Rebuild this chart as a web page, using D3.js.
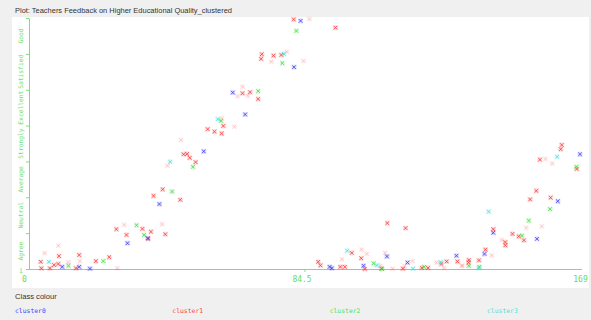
<!DOCTYPE html>
<html>
<head>
<meta charset="utf-8">
<script src="https://cdn.jsdelivr.net/npm/d3@7"></script>
<style>
  body { margin: 0; background: #f0f0f0; }
  svg { display: block; }
  .axis .domain, .axis .tick line { stroke: #6ee86e; stroke-width: 1; }
  .axis text { fill: #5ede5e; font-family: "DejaVu Sans Mono", monospace; font-size: 8px; }
</style>
</head>
<body>
<svg id="chart" width="591" height="320"></svg>
<script>
// Instance number vs. coded response value, coloured by assigned cluster.
const title = "Plot: Teachers Feedback on Higher Educational Quality_clustered";
const clusterNames = ["cluster0", "cluster1", "cluster2", "cluster3"];
const xTickValues = [0, 84.5, 169];
const yTickValues = [0, 10, 20, 30, 40, 50, 60, 70];
const yLabels = ["1", "Agree", "Neutral", "Average", "Strongly", "Excellent", "Satisfied", "Good"];

// [instance, value] pairs per cluster
const cluster0 = [
  [10.2, 0.6], [15.4, 0.6], [18.7, 0.1], [30.2, 7.2], [36.4, 8.6], [40.0, 18.1],
  [53.6, 32.8], [66.3, 43.1], [62.5, 49.2], [81.3, 56.3], [83.3, 69.2],
  [92.2, 0.6], [92.9, 0.2], [102.6, 0.9], [109.8, 3.5], [116.1, 1.8], [131.1, 3.7],
  [169.0, 32.0], [162.2, 18.9], [142.4, 10.1], [155.8, 8.4], [139.7, 4.2]
];
const cluster1 = [
  [3.6, 2.0], [3.8, 0.2], [6.4, 0.2], [7.7, 1.1], [9.0, 1.4], [9.2, 3.6], [14.4, 0.2],
  [15.4, 3.9], [20.5, 2.2], [24.6, 3.3], [26.8, 11.1], [29.9, 9.5], [34.8, 11.2],
  [36.6, 8.4], [37.4, 10.4], [41.8, 9.7], [41.0, 22.2], [38.2, 20.4], [46.4, 19.3],
  [47.4, 32.0], [48.5, 32.1], [49.3, 31.0], [51.1, 29.8], [54.8, 39.0], [56.9, 38.3],
  [59.1, 37.8], [59.6, 39.9], [65.5, 49.0], [67.8, 49.3], [70.3, 47.4], [71.4, 59.9],
  [71.2, 58.6], [75.0, 59.5], [77.4, 59.7], [81.2, 69.6], [94.0, 67.3],
  [109.9, 12.8], [115.5, 11.4], [99.0, 4.5], [101.9, 3.0], [88.7, 2.0], [89.4, 1.0],
  [95.5, 0.6], [96.9, 0.6], [103.0, 0.0], [108.1, 0.1], [114.7, 0.1], [120.5, 0.3],
  [122.4, 0.3], [126.5, 1.4], [128.1, 2.1], [131.4, 2.1], [134.9, 2.5], [138.0, 2.4],
  [163.4, 34.6], [163.1, 33.4], [156.7, 30.5], [168.0, 27.9], [155.6, 21.8],
  [153.7, 19.4], [160.0, 19.9], [142.4, 11.1], [148.3, 9.8], [150.2, 9.1], [151.8, 8.0],
  [146.1, 7.5], [146.1, 6.6], [140.0, 5.4], [134.8, 1.8]
];
const cluster2 = [
  [12.1, 0.9], [22.8, 2.2], [33.0, 12.2], [35.3, 9.5], [43.9, 21.6], [50.3, 28.5],
  [58.9, 41.3], [70.3, 49.6], [77.7, 57.4], [82.0, 66.4], [105.7, 1.6], [121.2, 0.6],
  [134.9, 0.9], [167.9, 28.5], [159.8, 16.7], [153.3, 13.5], [151.2, 9.3], [138.1, 0.6],
  [108.3, 0.0]
];
const cluster3 = [
  [6.1, 2.0], [43.3, 29.9], [57.9, 41.8], [78.2, 60.0], [97.6, 5.1], [106.7, 1.0],
  [117.8, 0.1], [126.3, 1.9], [138.0, 0.2], [162.0, 31.3], [141.0, 16.0]
];
// cluster1 instances sitting underneath others, drawn faintly
const cluster1Faint = [
  [9.0, 6.5], [4.8, 4.4], [15.6, 2.2], [27.1, 0.2], [29.2, 12.3], [40.8, 12.5],
  [64.0, 48.2], [65.5, 50.8], [67.1, 48.3], [63.0, 39.7], [59.2, 42.0], [46.6, 36.0],
  [42.5, 28.8], [86.0, 69.7], [79.1, 60.6], [74.3, 57.8], [84.2, 58.0], [102.0, 5.4],
  [103.6, 4.2], [96.0, 2.7], [107.8, 0.9], [109.2, 4.5], [111.5, 0.1], [115.2, 0.8],
  [117.6, 2.2], [125.0, 1.8], [127.3, 0.2], [133.0, 0.9], [160.5, 29.4], [158.4, 30.7],
  [157.3, 11.9], [152.5, 11.5], [145.0, 8.1], [141.9, 3.8], [132.7, 0.9], [12.1, 1.9]
];

const colours = ["#3030ff", "#ff3030", "#30dd30", "#30e0e0"];
const legendColours = ["#4040ff", "#ff4545", "#55dd55", "#55dddd"];

const svg = d3.select("#chart");

// panels
svg.append("rect").attr("x", 0).attr("y", 0).attr("width", 591).attr("height", 320).attr("fill", "#f0f0f0");
svg.append("rect").attr("x", 12).attr("y", 17).attr("width", 577).attr("height", 271).attr("fill", "#ffffff");

svg.append("text").attr("x", 15).attr("y", 13)
  .attr("font-family", "'Liberation Sans', Arial, sans-serif").attr("font-size", 7.6)
  .attr("fill", "#333").attr("textLength", 217).attr("lengthAdjust", "spacingAndGlyphs")
  .text(title);

const x = d3.scaleLinear().domain([0, 169]).range([29, 580]);
const y = d3.scaleLinear().domain([0, 70]).range([269, 18]);

// axes
const gx = svg.append("g").attr("class", "axis").attr("transform", `translate(0,${y(0)})`)
  .call(d3.axisBottom(x).tickValues(xTickValues).tickSize(3).tickSizeOuter(0)
    .tickFormat(d => d === 84.5 ? "84.5" : String(d)));
gx.select(".domain").attr("d", `M${x(0)},0.5H${x(169) + 2}`);
gx.selectAll(".tick text").attr("dy", "0.9em")
  .attr("dx", d => d === 0 ? -5 : (d === 84.5 ? -3 : 0));
gx.selectAll(".tick").filter(d => d !== 84.5).select("line").remove();

svg.append("g").attr("class", "axis").attr("transform", `translate(${x(0)},0)`)
  .call(d3.axisLeft(y).tickValues(yTickValues).tickSize(3).tickSizeOuter(0).tickFormat(""));

// value labels along the y axis, written vertically
const labelSlots = yLabels.map((t, i) => ({ t, v: i === 0 ? 0 : (i - 0.5) * 10 }));
svg.append("g").selectAll("text").data(labelSlots).join("text")
  .attr("transform", d => d.v === 0
      ? `translate(21,${y(d.v) + 2})`
      : `translate(21,${y(d.v)}) rotate(-90)`)
  .attr("text-anchor", "middle")
  .attr("dominant-baseline", "middle")
  .attr("font-family", "'DejaVu Sans Mono', monospace")
  .attr("font-size", 6.3)
  .attr("fill", "#6ee06e")
  .text(d => d.t);

// markers
function drawMarks(data, colour, faint) {
  const g = svg.append("g");
  const m = g.selectAll("g").data(data).join("g")
    .attr("transform", d => `translate(${x(d[0])},${y(d[1])})`);
  m.append("rect").attr("x", -2.5).attr("y", -2.5).attr("width", 5).attr("height", 5)
    .attr("fill", colour).attr("opacity", faint ? 0.06 : 0.16);
  m.append("path").attr("d", "M-1.8,-1.8L1.8,1.8M-1.8,1.8L1.8,-1.8")
    .attr("stroke", colour).attr("stroke-width", 1)
    .attr("opacity", faint ? 0.2 : 0.75).attr("fill", "none");
}
drawMarks(cluster1Faint, colours[1], true);
drawMarks(cluster1, colours[1], false);
drawMarks(cluster2, colours[2], false);
drawMarks(cluster3, colours[3], false);
drawMarks(cluster0, colours[0], false);

// legend
svg.append("text").attr("x", 15).attr("y", 299)
  .attr("font-family", "'Liberation Sans', Arial, sans-serif").attr("font-size", 7.6)
  .attr("fill", "#333").text("Class colour");
const legendX = d3.scalePoint().domain(clusterNames).range([15, 487]);
svg.append("g").selectAll("text").data(clusterNames).join("text")
  .attr("x", d => legendX(d)).attr("y", 313)
  .attr("font-family", "'DejaVu Sans Mono', monospace").attr("font-size", 6.4)
  .attr("fill", (d, i) => legendColours[i]).text(d => d);
</script>
</body>
</html>
